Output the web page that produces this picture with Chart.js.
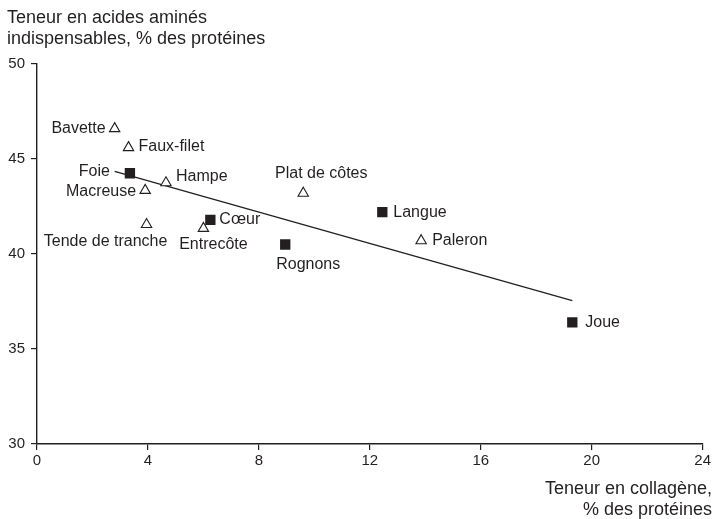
<!DOCTYPE html>
<html>
<head>
<meta charset="utf-8">
<script src="https://cdn.jsdelivr.net/npm/chart.js@4"></script>
<style>
  html, body { margin: 0; padding: 0; background: #fff; }
  #wrap { width: 713px; height: 519px; position: relative; }
</style>
</head>
<body>
<div id="wrap"><canvas id="c" width="713" height="519"></canvas></div>
<script>
// Morceaux de viande : teneur en collagène vs acides aminés indispensables
const names    = ['Bavette', 'Faux-filet', 'Foie', 'Macreuse', 'Hampe', 'Tende de tranche', 'Cœur', 'Entrecôte', 'Plat de côtes', 'Langue', 'Paleron', 'Rognons', 'Joue'];
const collagen = [2.8, 3.3, 3.35, 3.9, 4.65, 3.95, 6.25, 6.0, 9.6, 12.45, 13.85, 8.95, 19.3];
const aminoAcids = [46.6, 45.6, 44.25, 43.35, 43.75, 41.55, 41.8, 41.35, 43.2, 42.2, 40.7, 40.5, 36.4];
const isOrgan  = [false, false, true, false, false, false, true, false, false, true, false, true, true];

// Droite de tendance (extrémités)
const trendX = [2.8, 19.3];
const trendY = [44.35, 37.55];

const xTicks = [0, 4, 8, 12, 16, 20, 24];
const yTicks = [30, 35, 40, 45, 50];

const yTitle = ['Teneur en acides aminés', 'indispensables, % des protéines'];
const xTitle = ['Teneur en collagène,', '% des protéines'];

// Placement des étiquettes autour des marqueurs (décalage en px, alignement)
const labelPlace = {
  'Bavette':          { dx: -9,  dy: 0,  align: 'right' },
  'Faux-filet':       { dx: 10,  dy: -1, align: 'left' },
  'Foie':             { dx: -20, dy: -2, align: 'right' },
  'Macreuse':         { dx: -9,  dy: 1,  align: 'right' },
  'Hampe':            { dx: 10,  dy: -6, align: 'left' },
  'Tende de tranche': { dx: -41, dy: 17, align: 'center' },
  'Cœur':             { dx: 9,   dy: 0,  align: 'left' },
  'Entrecôte':        { dx: 10,  dy: 16, align: 'center' },
  'Plat de côtes':    { dx: 18,  dy: -20, align: 'center' },
  'Langue':           { dx: 11,  dy: 0,  align: 'left' },
  'Paleron':          { dx: 11,  dy: 0,  align: 'left' },
  'Rognons':          { dx: 23,  dy: 20, align: 'center' },
  'Joue':             { dx: 13,  dy: 0,  align: 'left' }
};

const FONT = '"Liberation Sans", Arial, Helvetica, sans-serif';
const NARROW = '"Liberation Sans Narrow", "Liberation Sans", Arial, sans-serif';
const INK = '#231f20';

const triPts = [], sqPts = [];
names.forEach((n, i) => {
  const p = { x: collagen[i], y: aminoAcids[i], name: n };
  (isOrgan[i] ? sqPts : triPts).push(p);
});

const textPlugin = {
  id: 'texts',
  afterDatasetsDraw(chart) {
    const ctx = chart.ctx;
    const xs = chart.scales.x, ys = chart.scales.y;
    ctx.save();
    ctx.fillStyle = INK;
    ctx.font = '16px ' + FONT;
    ctx.textBaseline = 'middle';
    names.forEach((n, i) => {
      const pl = labelPlace[n];
      const px = xs.getPixelForValue(collagen[i]);
      const py = ys.getPixelForValue(aminoAcids[i]);
      ctx.textAlign = pl.align;
      ctx.fillText(n, px + pl.dx, py + pl.dy);
    });
    // titres des axes
    ctx.font = '18px ' + FONT;
    ctx.textAlign = 'left';
    ctx.textBaseline = 'alphabetic';
    ctx.fillText(yTitle[0], 7, 23);
    ctx.fillText(yTitle[1], 7, 44);
    ctx.textAlign = 'right';
    ctx.fillText(xTitle[0], 712, 494);
    ctx.fillText(xTitle[1], 712, 515);
    ctx.restore();
  }
};

new Chart(document.getElementById('c'), {
  type: 'scatter',
  data: {
    datasets: [
      {
        type: 'line',
        data: trendX.map((x, i) => ({ x, y: trendY[i] })),
        borderColor: INK,
        borderWidth: 1.3,
        pointRadius: 0,
        fill: false,
        order: 3
      },
      {
        data: triPts,
        pointStyle: 'triangle',
        pointRadius: 6,
        backgroundColor: '#fff',
        borderColor: INK,
        borderWidth: 1.1,
        order: 1
      },
      {
        data: sqPts,
        pointStyle: 'rect',
        pointRadius: 7.3,
        backgroundColor: INK,
        borderColor: INK,
        borderWidth: 0,
        order: 1
      }
    ]
  },
  options: {
    responsive: false,
    animation: false,
    events: [],
    layout: { padding: { top: 64, right: 10, left: 0, bottom: 0 } },
    plugins: { legend: { display: false }, tooltip: { enabled: false }, title: { display: false } },
    scales: {
      x: {
        type: 'linear',
        min: 0, max: 24,
        afterBuildTicks(s) { s.ticks = xTicks.map(v => ({ value: v })); },
        afterFit(s) { s.height = 75; },
        grid: { drawOnChartArea: false, drawTicks: true, tickLength: 6, color: INK, lineWidth: 1.2 },
        border: { display: true, color: INK, width: 1.4 },
        ticks: { color: INK, font: { family: NARROW, size: 15 }, padding: 2, maxRotation: 0, autoSkip: false }
      },
      y: {
        type: 'linear',
        min: 30, max: 50,
        afterBuildTicks(s) { s.ticks = yTicks.map(v => ({ value: v })); },
        afterFit(s) { s.width = 37; },
        grid: { drawOnChartArea: false, drawTicks: true, tickLength: 6, color: INK, lineWidth: 1.2 },
        border: { display: true, color: INK, width: 1.4 },
        ticks: { color: INK, font: { family: NARROW, size: 15 }, padding: 6, autoSkip: false }
      }
    }
  },
  plugins: [textPlugin]
});
</script>
</body>
</html>
